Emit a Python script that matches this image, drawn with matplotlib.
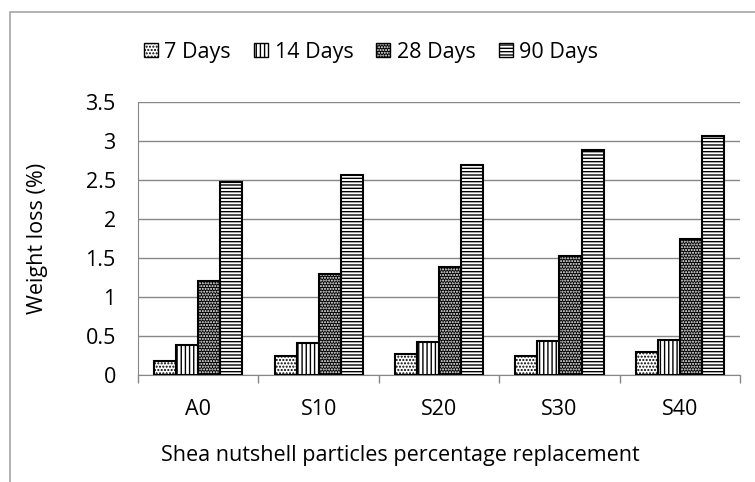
import numpy as np
import matplotlib.pyplot as plt
from matplotlib.patches import Rectangle, Patch

plt.rcParams['font.family'] = ['Open Sans', 'DejaVu Sans']
plt.rcParams['hatch.linewidth'] = 1.0

categories = ['A0', 'S10', 'S20', 'S30', 'S40']
series = ['7 Days', '14 Days', '28 Days', '90 Days']
days7 = [0.18, 0.25, 0.27, 0.25, 0.29]
days14 = [0.39, 0.41, 0.42, 0.43, 0.45]
days28 = [1.21, 1.30, 1.39, 1.53, 1.74]
days90 = [2.47, 2.57, 2.69, 2.89, 3.07]
yticks = [0, 0.5, 1, 1.5, 2, 2.5, 3, 3.5]
ytick_labels = ['0', '0.5', '1', '1.5', '2', '2.5', '3', '3.5']

fs = 15.5

fig = plt.figure(figsize=(7.55, 4.82), dpi=100)
ax = fig.add_axes([0.1828, 0.222, 0.7975, 0.566])

# chart outer border (Excel style)
fig.patches.append(Rectangle((10 / 755, -0.1), 1.0, 1 - 12 / 482 + 0.1,
                             transform=fig.transFigure, fill=False,
                             edgecolor='#a6a6a6', linewidth=1.2))

x = np.arange(len(categories))
w = 0.183
offsets = [-1.5 * w, -0.5 * w, 0.5 * w, 1.5 * w]
grey = '#878787'

ax.bar(x + offsets[0], days7, w, facecolor='white', edgecolor='black',
       hatch='.....', linewidth=1.5, zorder=3)
ax.bar(x + offsets[1], days14, w, facecolor='white', edgecolor='black',
       hatch='||||', linewidth=1.5, zorder=3)
# black with white dots
ax.bar(x + offsets[2], days28, w, facecolor='black', edgecolor='white',
       hatch='......', linewidth=0, zorder=3)
ax.bar(x + offsets[2], days28, w, facecolor='none', edgecolor='black',
       linewidth=1.5, zorder=4)
ax.bar(x + offsets[3], days90, w, facecolor='white', edgecolor='black',
       hatch='-----', linewidth=1.5, zorder=3)

ax.set_xlim(-0.5, len(categories) - 0.5)
ax.set_ylim(0, 3.5)
ax.set_yticks(yticks)
ax.set_yticklabels(ytick_labels)
ax.yaxis.grid(True, color=grey, linewidth=1.0)
ax.set_axisbelow(True)

ax.set_xticks(x)
ax.set_xticklabels(categories)
ax.set_xticks(np.arange(len(categories) + 1) - 0.5, minor=True)
ax.tick_params(axis='x', which='major', length=0, pad=17, labelsize=fs)
ax.tick_params(axis='x', which='minor', length=6, color=grey, width=1.0)
ax.tick_params(axis='y', length=0, pad=16, labelsize=fs)

for s in ['top', 'right']:
    ax.spines[s].set_visible(False)
ax.spines['left'].set_color(grey)
ax.spines['bottom'].set_color(grey)

ax.set_ylabel('Weight loss (%)', fontsize=fs, labelpad=27)
ax.set_xlabel('Shea nutshell particles percentage replacement', fontsize=fs, labelpad=21)
ax.xaxis.set_label_coords((400 - 138) / 602, -0.255)

h28 = (Patch(facecolor='black', edgecolor='white', hatch='......', linewidth=0),
       Patch(facecolor='none', edgecolor='black', linewidth=1.0))
handles = [
    Patch(facecolor='white', edgecolor='black', hatch='.....'),
    Patch(facecolor='white', edgecolor='black', hatch='||||'),
    h28,
    Patch(facecolor='white', edgecolor='black', hatch='-----'),
]
fig.legend(handles=handles, labels=series, loc='center',
           bbox_to_anchor=(371 / 755, 1 - 52 / 482),
           ncol=4, frameon=False, fontsize=fs, handlelength=0.65, handleheight=0.65,
           handletextpad=0.3, columnspacing=1.07)

fig.savefig('out.png', dpi=100)
